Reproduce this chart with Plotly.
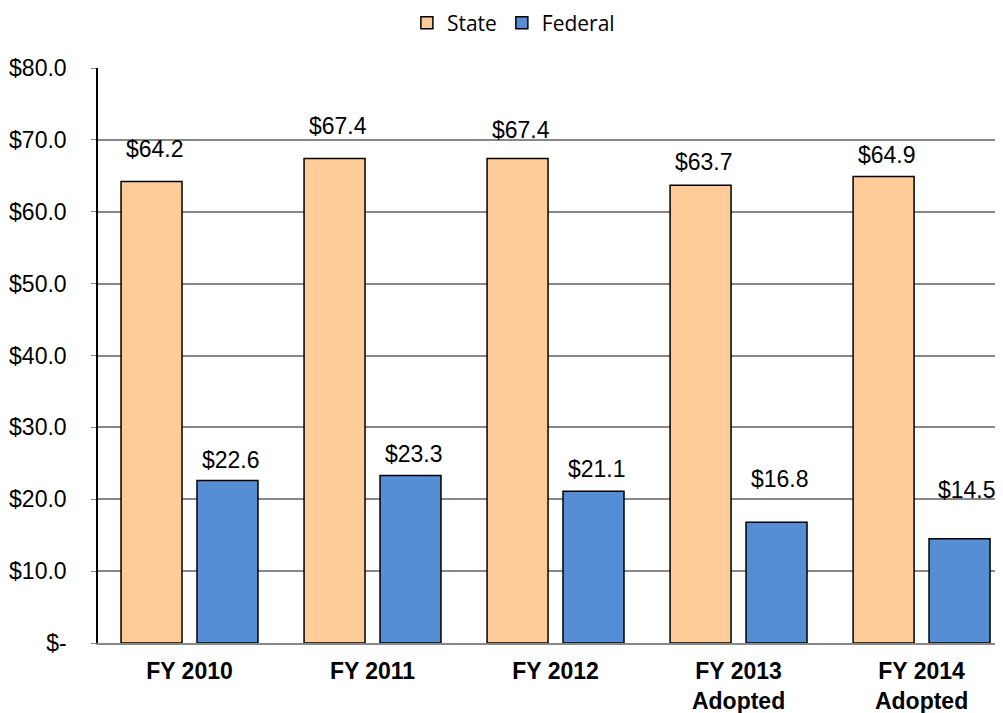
import plotly.graph_objects as go

categories = ["FY 2010", "FY 2011", "FY 2012", "FY 2013<br>Adopted", "FY 2014<br>Adopted"]
state = [64.2, 67.4, 67.4, 63.7, 64.9]
federal = [22.6, 23.3, 21.1, 16.8, 14.5]
tick_vals = [0, 10, 20, 30, 40, 50, 60, 70, 80]
tick_text = ["$-", "$10.0", "$20.0", "$30.0", "$40.0", "$50.0", "$60.0", "$70.0", "$80.0"]

# label styling (pixel offsets above bar tops)
state_shift = [33, 33, 29, 23, 22]
fed_shift = [21, 22, 22, 43, 49]
fed_xshift = [3, 3, 3, 3, 7]

fig = go.Figure()
fig.add_bar(name="State", x=categories, y=state,
            marker=dict(color="#FFCC99", line=dict(color="black", width=1.5)))
fig.add_bar(name="Federal", x=categories, y=federal,
            marker=dict(color="#558ED5", line=dict(color="black", width=1.5)))

lab_font = dict(family="Liberation Sans, Arial", size=23, color="black")
for i, c in enumerate(categories):
    fig.add_annotation(x=i, y=state[i], xref="x", yref="y", text=f"${state[i]:.1f}",
                       showarrow=False, yshift=state_shift[i], xshift=-38 + 3,
                       font=lab_font)
    fig.add_annotation(x=i, y=federal[i], xref="x", yref="y", text=f"${federal[i]:.1f}",
                       showarrow=False, yshift=fed_shift[i], xshift=38 + fed_xshift[i],
                       font=lab_font)

# page body has an 8px margin, so the figure is sized to end at the window edge
fig.update_layout(
    width=995, height=705,
    margin=dict(l=90, r=0, t=60, b=70, autoexpand=False),
    paper_bgcolor="white", plot_bgcolor="white",
    barmode="group", bargap=0.17, bargroupgap=0.197,
    legend=dict(orientation="h", x=0.459, xanchor="center", y=1.078, yanchor="middle",
                font=dict(family="Open Sans, Noto Sans", size=21, color="black"),
                itemwidth=30, tracegroupgap=0),
    xaxis=dict(type="category", range=[-0.5, 4.445], showgrid=False,
               showline=True, linecolor="#888888", linewidth=2,
               tickfont=dict(family="Liberation Sans, Arial", size=23, color="black"),
               ticks="", ticklabelstandoff=6),
    yaxis=dict(range=[0, 80], tickvals=tick_vals, ticktext=tick_text,
               showgrid=True, gridcolor="#888888", gridwidth=1.5,
               showline=True, linecolor="black", linewidth=1.5,
               ticks="outside", ticklen=5, tickcolor="#888888",
               tickfont=dict(family="Liberation Sans, Arial", size=23, color="black"),
               ticklabelstandoff=20, zeroline=False),
)
fig.update_xaxes(tickmode="array", tickvals=categories,
                 ticktext=[f"<b>{c}</b>" for c in categories])

fig.write_html("out.html")
